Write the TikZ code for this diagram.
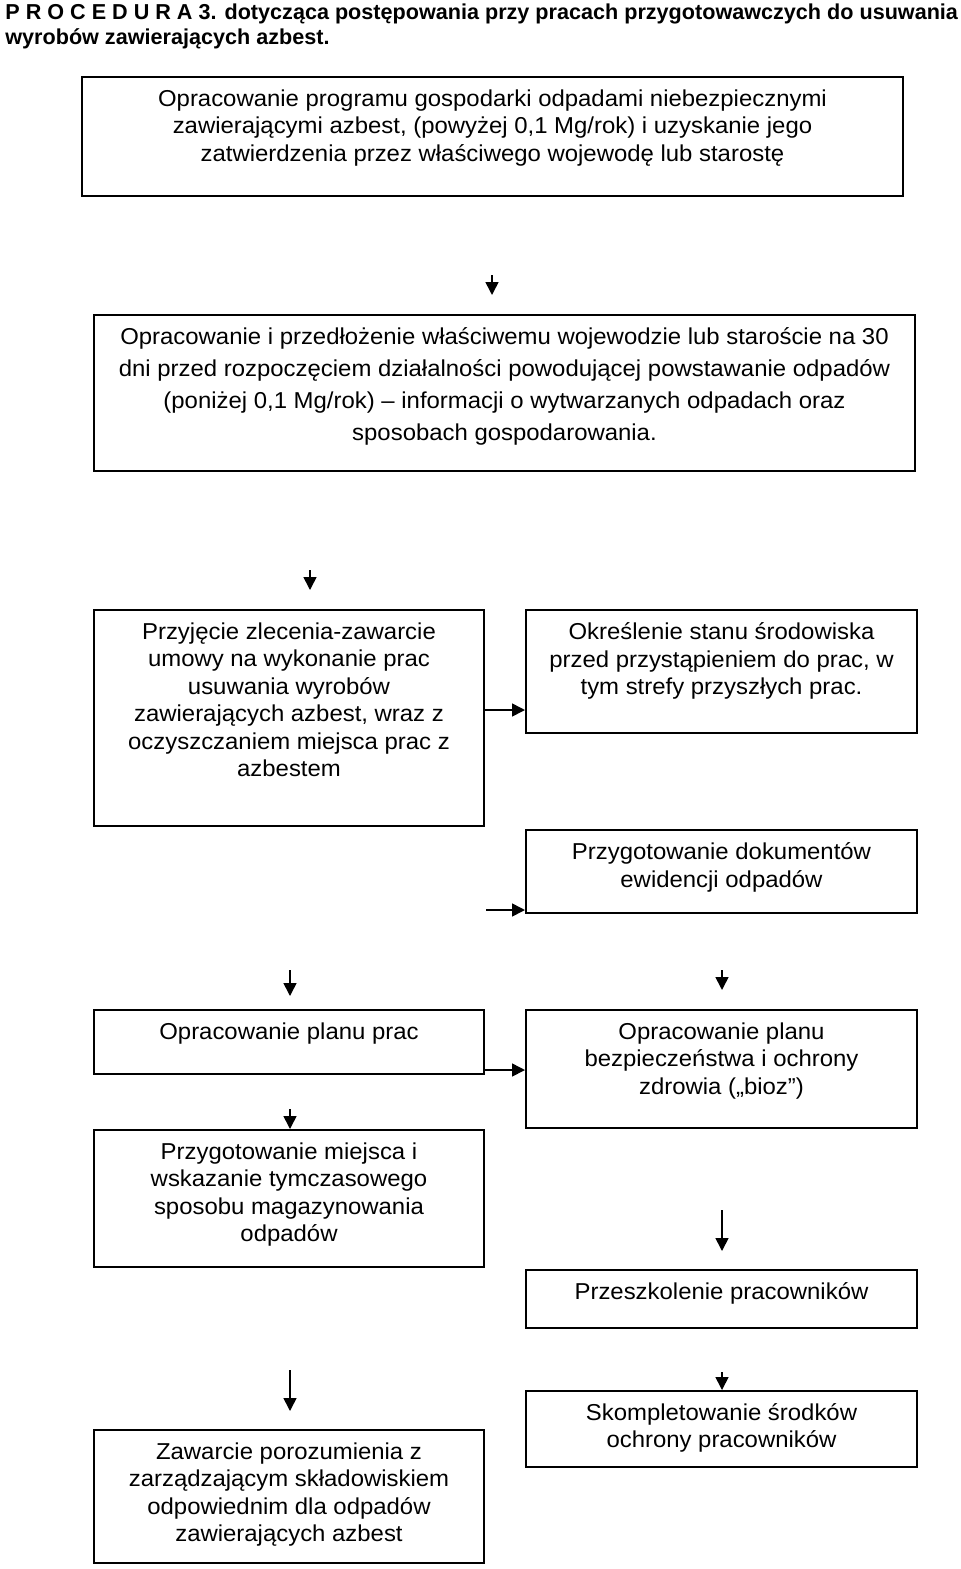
\documentclass[tikz,border=0pt]{standalone}
\usepackage{fontspec}
\setmainfont[FakeStretch=1.04]{Liberation Sans}
\newfontfamily\titlefont{Liberation Sans}
\usetikzlibrary{arrows.meta,positioning,fit}

\begin{document}
\begin{tikzpicture}[x=0.5pt,y=-0.5pt,
  box/.style={draw,line width=1pt,inner sep=0pt},
  txt/.style={inner sep=0pt,align=center,font=\fontsize{11.5}{13.75}\selectfont},
  arr/.style={line width=0.8pt,-{Triangle[length=6.5pt,width=6.5pt]}}]
  \useasboundingbox (0,0) rectangle (960,1569);
  % title
  \node [anchor=north west,inner sep=0pt,align=left,font=\titlefont\bfseries\fontsize{10.8}{12.5}\selectfont] (title) at (5,3)
    {P R O C E D U R A 3. dotycząca postępowania przy pracach przygotowawczych do usuwania\\wyrobów zawierających azbest.};
  % boxes
  \node [box,fit={(82,77) (903,196)}] (b1) {};
  \node [txt,below=6.7pt of b1.north] (t1) {Opracowanie programu gospodarki odpadami niebezpiecznymi\\zawierającymi azbest, (powyżej 0,1 Mg/rok) i uzyskanie jego\\zatwierdzenia przez właściwego wojewodę lub starostę};
  \node [box,fit={(94,315) (915,471)}] (b2) {};
  \node [txt,below=6.7pt of b2.north,font=\fontsize{11.5}{16}\selectfont] (t2) {Opracowanie i przedłożenie właściwemu wojewodzie lub staroście na 30\\dni przed rozpoczęciem działalności powodującej powstawanie odpadów\\(poniżej 0,1 Mg/rok) – informacji o wytwarzanych odpadach oraz\\sposobach gospodarowania.};
  \node [box,fit={(94,610) (484,826)}] (b3) {};
  \node [txt,below=6.7pt of b3.north] (t3) {Przyjęcie zlecenia-zawarcie\\umowy na wykonanie prac\\usuwania wyrobów\\zawierających azbest, wraz z\\oczyszczaniem miejsca prac z\\azbestem};
  \node [box,fit={(526,610) (917,733)}] (b4) {};
  \node [txt,below=6.7pt of b4.north] (t4) {Określenie stanu środowiska\\przed przystąpieniem do prac, w\\tym strefy przyszłych prac.};
  \node [box,fit={(526,830) (917,913)}] (b5) {};
  \node [txt,below=6.7pt of b5.north] (t5) {Przygotowanie dokumentów\\ewidencji odpadów};
  \node [box,fit={(94,1010) (484,1074)}] (b6) {};
  \node [txt,below=6.7pt of b6.north] (t6) {Opracowanie planu prac};
  \node [box,fit={(526,1010) (917,1128)}] (b7) {};
  \node [txt,below=6.7pt of b7.north] (t7) {Opracowanie planu\\bezpieczeństwa i ochrony\\zdrowia („bioz”)};
  \node [box,fit={(94,1130) (484,1267)}] (b8) {};
  \node [txt,below=6.7pt of b8.north] (t8) {Przygotowanie miejsca i\\wskazanie tymczasowego\\sposobu magazynowania\\odpadów};
  \node [box,fit={(526,1270) (917,1328)}] (b9) {};
  \node [txt,below=6.7pt of b9.north] (t9) {Przeszkolenie pracowników};
  \node [box,fit={(526,1391) (917,1467)}] (b10) {};
  \node [txt,below=6.5pt of b10.north] (t10) {Skompletowanie środków\\ochrony pracowników};
  \node [box,fit={(94,1430) (484,1563)}] (b11) {};
  \node [txt,below=6.5pt of b11.north] (t11) {Zawarcie porozumienia z\\zarządzającym składowiskiem\\odpowiednim dla odpadów\\zawierających azbest};
  % arrows
  \coordinate (a1) at (492,275);
  \coordinate (a2) at (310,570);
  \coordinate (a3) at (722,970);
  \coordinate (a4) at (290,970);
  \coordinate (a5) at (722,1210);
  \coordinate (a6) at (290,1370);
  \coordinate (h1) at (484,710);
  \coordinate (h2) at (486,910);
  \coordinate (h3) at (484,1070);
  \draw [arr] (a1) -- +(0,20);
  \draw [arr] (a2) -- +(0,20);
  \draw [arr] (h1) -- (h1 -| b4.west);
  \draw [arr] (h2) -- (h2 -| b5.west);
  \draw [arr] (a4) -- +(0,26);
  \draw [arr] (a3) -- +(0,20);
  \draw [arr] (h3) -- (h3 -| b7.west);
  \draw [arr] (b8.north -| a4) ++(0,-20) -- (b8.north -| a4);
  \draw [arr] (a5) -- +(0,41);
  \draw [arr] (a6) -- +(0,41);
  \draw [arr] (b10.north -| a3) ++(0,-18) -- (b10.north -| a3);
\end{tikzpicture}
\end{document}
